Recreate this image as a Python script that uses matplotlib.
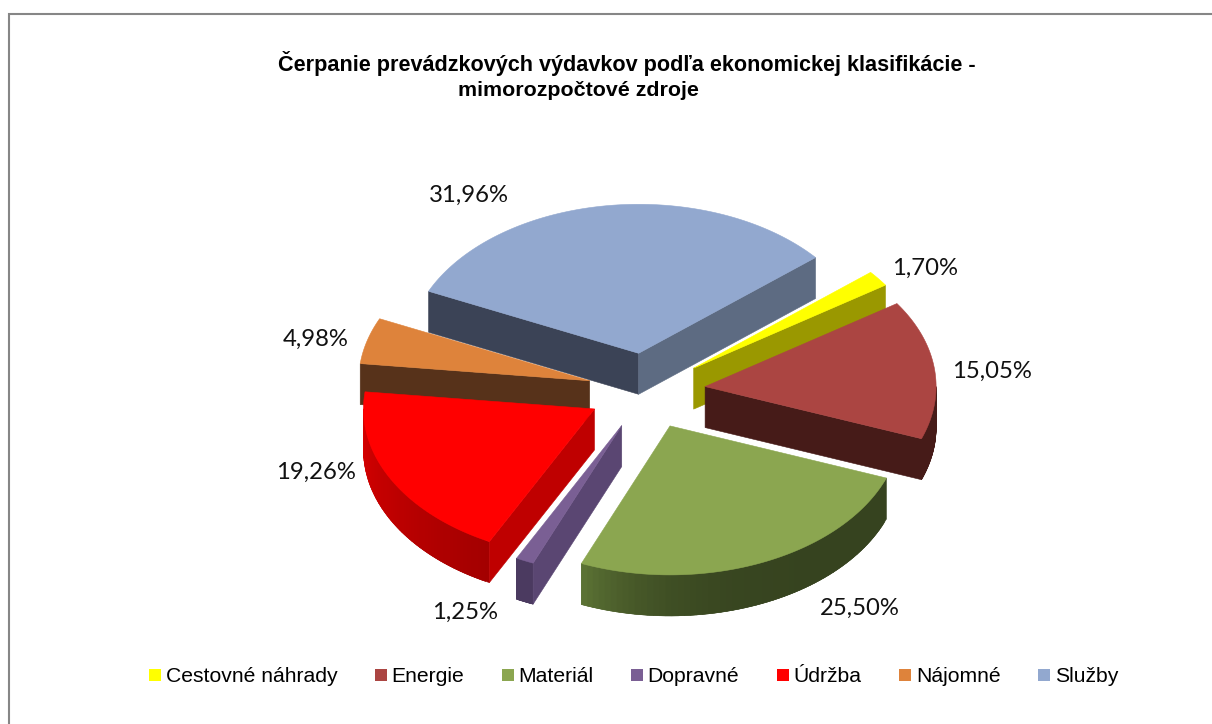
"""3D exploded pie: prevadzkove vydavky podla ekonomickej klasifikacie."""

import numpy as np
import matplotlib
matplotlib.use("Agg")
import matplotlib.pyplot as plt
from matplotlib.collections import PolyCollection
from matplotlib.colors import to_rgb
from matplotlib.patches import Patch, Polygon

TITLE_1 = "Čerpanie prevádzkových výdavkov podľa ekonomickej klasifikácie -"
TITLE_2 = "mimorozpočtové zdroje"

categories = ["Cestovné náhrady", "Energie", "Materiál", "Dopravné", "Údržba", "Nájomné", "Služby"]
shares = [1.70, 15.05, 25.50, 1.25, 19.26, 4.98, 31.96]
share_labels = ["1,70%", "15,05%", "25,50%", "1,25%", "19,26%", "4,98%", "31,96%"]

top_colors = ["#FFFF00", "#AB4542", "#8BA650", "#7A5F94", "#FF0000", "#DE833B", "#92A8CF"]
start_cut_colors = ["#9A9800", "#461B18", "#36431F", "#5A4672", "#BF0000", "#57321A", "#3B4356"]
end_cut_colors = ["#9A9800", "#461B18", "#36431F", "#5A4672", "#BF0000", "#57321A", "#5D6B82"]
wall_from = ["#9A9800", "#461B18", "#36431F", "#4B3A60", "#A30000", "#57321A", "#5D6B82"]
wall_to = ["#9A9800", "#461B18", "#5E7636", "#4B3A60", "#DD0000", "#57321A", "#3B4356"]
wall_power = [1, 1, 5, 1, 1, 1, 1]

# far slices first so the near ones cover them
draw_order = [6, 5, 0, 1, 4, 3, 2]

label_x = [925, 992, 860, 465, 316, 316, 469]
label_y = [268, 371, 608, 612, 472, 339, 195]

CX, CY = 646.5, 391
RX, RY = 231, 149
EXPLODE = 59
DEPTH = 41
START_ANGLE = 50


def project(bearing):
    rad = np.radians(bearing)
    return np.sin(rad) * RX, -np.cos(rad) * RY


def draw_slice(ax, i, start, end):
    # explode along the screen direction of the slice middle
    rad = np.radians((start + end) / 2)
    ax0 = CX + np.sin(rad) * EXPLODE
    ay0 = CY - np.cos(rad) * EXPLODE * RY / RX

    # outer wall, only the part turned to the viewer
    lo, hi = max(start, 90), min(end, 270)
    if lo < hi:
        steps = np.linspace(lo, hi, 61)
        quads, colors = [], []
        c0, c1 = np.array(to_rgb(wall_from[i])), np.array(to_rgb(wall_to[i]))
        for k in range(60):
            # each quad runs one step past its own end so no seams show
            a, b = steps[k], steps[min(k + 2, 60)]
            xa, ya = project(a)
            xb, yb = project(b)
            quads.append([(ax0 + xa, ay0 + ya), (ax0 + xb, ay0 + yb),
                          (ax0 + xb, ay0 + yb + DEPTH), (ax0 + xa, ay0 + ya + DEPTH)])
            t = ((a - start) / (end - start)) ** wall_power[i]
            colors.append(c0 + (c1 - c0) * t)
        ax.add_collection(PolyCollection(quads, facecolors=colors, edgecolors=colors, linewidths=0.4))

    # cut faces
    cuts = [(start, start - 90, start_cut_colors[i]), (end, end + 90, end_cut_colors[i])]
    for bearing, normal, color in cuts:
        if np.cos(np.radians(normal)) < 0:
            x, y = project(bearing)
            ax.add_patch(Polygon([(ax0, ay0), (ax0 + x, ay0 + y), (ax0 + x, ay0 + y + DEPTH), (ax0, ay0 + DEPTH)],
                                 closed=True, facecolor=color, edgecolor=color, linewidth=0.4))

    # top face
    arc = np.linspace(start, end, 120)
    xs, ys = project(arc)
    pts = [(ax0, ay0)] + list(zip(ax0 + xs, ay0 + ys))
    ax.add_patch(Polygon(pts, closed=True, facecolor=top_colors[i], edgecolor=top_colors[i], linewidth=0.4))


def main():
    fig = plt.figure(figsize=(12.12, 7.24), dpi=100)
    ax = fig.add_axes([0, 0, 1, 1])
    ax.set_xlim(0, 1212)
    ax.set_ylim(724, 0)
    ax.axis("off")

    # chart border runs off the right and bottom of the picture
    ax.plot([9, 9, 1300], [800, 14, 14], color="#868686", linewidth=1.5, solid_joinstyle="miter")

    edges = START_ANGLE + np.concatenate([[0], np.cumsum(shares)]) / sum(shares) * 360
    for i in draw_order:
        draw_slice(ax, i, edges[i], edges[i + 1])

    for text, x, y in zip(share_labels, label_x, label_y):
        ax.text(x, y, text, ha="center", va="center", fontsize=17.2, family="Lato", color="#111111")

    ax.text(626.5, 64, TITLE_1, ha="center", va="center", fontsize=15.6, fontweight="bold", family="Liberation Sans")
    ax.text(578.5, 90, TITLE_2, ha="center", va="center", fontsize=15.4, fontweight="bold", family="Liberation Sans")

    handles = [Patch(facecolor=c, edgecolor=c, linewidth=0) for c in top_colors]
    ax.legend(handles, categories, ncol=7, loc="center left", bbox_to_anchor=(149 / 1212, 1 - 677 / 724),
              frameon=False, borderpad=0, borderaxespad=0,
              prop={"family": "Liberation Sans", "size": 15.25},
              handlelength=0.56, handleheight=0.56, handletextpad=0.22, columnspacing=1.78)

    fig.savefig("out.png", dpi=100)


if __name__ == "__main__":
    main()
